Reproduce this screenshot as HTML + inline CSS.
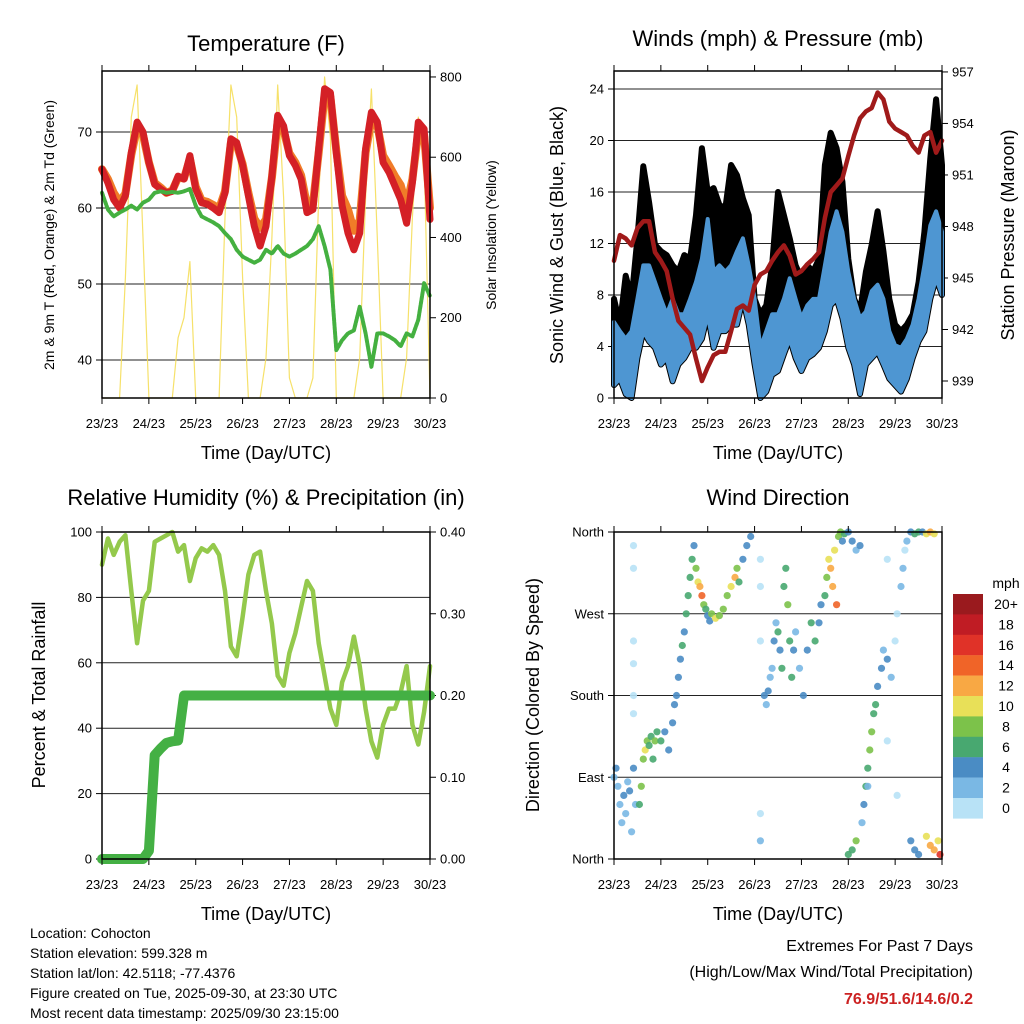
<!DOCTYPE html>
<html><head><meta charset="utf-8"><style>
html,body{margin:0;padding:0;background:#fff}
svg{display:block;font-family:"Liberation Sans",sans-serif}
</style></head><body>
<svg id="chart" xmlns="http://www.w3.org/2000/svg" width="1024" height="1024" viewBox="0 0 1024 1024">
<rect width="1024" height="1024" fill="#fff"/>
<g id="layer"></g>
</svg>
<script>
// 3-hourly samples, index i -> hour 3*i since 23/23
const dayLabels = ["23/23","24/23","25/23","26/23","27/23","28/23","29/23","30/23"];
const tempRed = [65.1,63.3,61.1,60.0,61.6,67.3,71.3,70.0,66.0,63.1,62.5,62.0,62.2,64.2,63.8,66.9,62.5,60.7,60.5,60.0,59.4,62.0,69.1,68.6,65.6,61.6,57.6,55.0,57.6,64.2,72.2,70.8,66.9,65.6,63.8,59.4,59.8,67.8,75.7,75.2,67.3,60.3,56.7,54.5,56.7,67.8,72.6,71.3,66.0,64.7,62.9,61.1,58.0,63.3,71.3,70.4,58.5];
const tempOrange = [65.1,63.8,62.0,60.8,61.9,67.0,70.6,69.6,66.0,63.3,62.7,62.0,62.3,64.0,63.9,66.5,62.8,61.0,60.8,60.4,59.9,62.2,68.6,68.3,65.8,62.0,58.6,57.4,58.5,64.0,71.4,70.2,67.2,66.0,64.3,60.4,60.5,67.3,74.8,74.6,67.6,61.6,59.8,57.0,58.4,67.3,71.6,70.9,66.9,65.6,64.2,63.0,60.2,63.8,70.0,69.6,60.0];
const dewGreen = [62.0,59.8,58.9,59.4,59.8,60.3,59.8,60.7,61.1,62.0,62.2,62.0,62.1,62.0,62.2,62.5,60.3,58.9,58.5,58.1,57.6,56.7,55.9,54.5,53.6,53.2,52.8,53.2,54.5,54.0,55.0,54.0,53.6,54.0,54.5,55.0,55.9,57.6,55.0,51.9,41.3,42.6,43.5,43.9,47.0,43.5,39.1,43.5,43.5,43.1,42.6,41.8,43.5,43.1,45.3,50.1,48.4];
const solar = [0,0,0,0,300,700,780,400,0,0,0,0,0,150,200,340,0,0,0,0,0,450,780,700,300,0,0,0,100,400,780,500,50,0,0,0,50,500,800,650,0,0,0,0,100,500,770,400,0,0,0,0,100,450,700,600,0];
const pressure = [946.0,947.5,947.3,946.9,947.9,948.3,948.3,946.5,946.0,945.4,943.8,942.5,942.1,941.7,940.3,939.0,939.8,940.5,940.7,940.7,941.9,943.2,943.4,943.1,944.6,945.2,945.4,946.0,946.5,946.9,946.3,945.2,945.4,945.8,946.1,946.5,948.5,950.0,950.4,950.8,952.1,953.3,954.3,954.7,954.9,955.8,955.4,954.1,953.7,953.5,953.3,952.7,952.3,953.3,953.5,952.3,953.0];
const windLo = [1.0,1.5,0.3,0,3.1,5.2,4.4,3.9,2.6,3.1,1.3,2.6,3.1,3.9,3.9,4.6,6.5,3.9,5.2,5.2,5.7,5.7,7.7,5.7,2.6,0,0.5,1.8,2.1,3.4,4.6,3.1,2.1,3.1,3.4,3.9,5.2,7.2,7.7,6.2,3.9,2.6,0.3,2.6,3.1,3.6,2.6,1.5,1.0,0.5,1.5,3.1,4.4,5.2,7.7,9.3,8.0];
const windHi = [5.9,5.2,4.6,5.2,7.7,10.3,10.3,9.0,7.7,6.5,7.7,6.5,6.5,7.7,9.0,10.8,13.9,9.8,10.3,9.8,10.3,11.4,12.4,10.3,7.7,3.9,5.2,6.5,6.5,7.7,9.3,7.7,6.2,7.2,7.7,7.7,10.3,12.9,14.5,12.9,9.8,7.7,6.2,6.7,8.3,8.8,7.7,5.2,4.1,3.9,4.6,5.7,7.7,10.3,13.4,14.5,12.9];
const gustHi = [7.7,5.7,9.5,7.7,12.4,18.0,15.2,11.9,11.4,11.1,10.3,9.8,11.1,10.8,14.2,19.4,16.0,16.3,15.0,14.7,18.1,17.3,15.5,14.2,7.7,6.5,7.2,10.3,16.0,14.2,12.4,10.3,9.3,10.3,9.8,10.8,18.1,20.6,19.4,16.8,10.8,7.7,6.7,9.8,11.9,14.5,11.4,7.7,5.7,5.2,5.7,6.5,9.0,12.9,18.6,23.2,18.1];
const rh = [90,98,93,97,99,82,66,79,82,97,98,99,100,94,96,85,92,95,94,96,93,82,65,62,74,87,93,94,82,72,56,53,63,69,77,85,82,66,56,46,41,54,59,68,59,46,36,31,41,46,46,51,59,41,35,45,59];
const precip = [0,0,0,0,0,0,0,0,0.01,0.127,0.135,0.142,0.144,0.145,0.2,0.2,0.2,0.2,0.2,0.2,0.2,0.2,0.2,0.2,0.2,0.2,0.2,0.2,0.2,0.2,0.2,0.2,0.2,0.2,0.2,0.2,0.2,0.2,0.2,0.2,0.2,0.2,0.2,0.2,0.2,0.2,0.2,0.2,0.2,0.2,0.2,0.2,0.2,0.2,0.2,0.2,0.2];
// wind direction observations: hour, degrees, speed (mph)
const dirHour = [0,1,2,3,4,5,6,7,8,9,10,11,10,10,10,10,10,10,13,14,15,16,17,18,19,20,21,22,24,26,28,30,31,32,33,34,35,36,37,38,39,40,41,42,43,44,45,46,47,48,49,50,52,54,56,58,60,62,63,64,66,68,70,75,75,75,75,75,77,78,79,80,81,82,83,84,85,86,87,88,89,90,91,92,93,95,97,99,101,103,105,106,108,109,110,111,112,113,114,115,116,117,118,120,122,124,126,120,122,124,127,128,129,130,131,132,133,134,135,137,138,140,142,144,145,147,148,149,150,152,154,156,158,160,162,164,152,154,156,160,162,164,166,167,140,140,145,130];
const dirDeg = [90,100,80,60,40,70,50,85,75,30,100,60,345,320,240,215,180,160,60,80,110,120,130,125,135,110,130,140,130,140,120,150,170,180,200,220,235,250,270,290,310,330,345,320,305,300,290,280,275,268,262,270,265,268,275,290,300,310,320,305,330,345,355,330,300,240,50,20,180,170,185,200,210,240,260,250,230,210,300,320,280,240,200,230,250,210,180,230,260,240,260,280,290,310,330,320,300,340,280,355,360,350,358,360,350,340,345,5,10,20,40,60,80,100,120,140,160,170,190,210,230,220,200,240,270,300,320,340,350,360,358,360,360,358,360,358,20,10,5,25,15,10,20,5,330,130,70,80];
const dirSpeed = [3,4,3,3,3,4,3,3,4,2,4,3,1,1,1,0,1,1,7,8,9,10,8,7,6,7,8,7,6,5,5,4,4,4,4,5,6,5,6,6,7,6,4,8,10,12,14,8,6,5,4,8,10,8,9,8,10,12,9,7,4,4,4,0,1,1,0,2,4,3,4,2,3,4,3,6,4,7,7,6,8,7,6,4,3,3,4,5,7,6,5,4,6,8,10,12,13,11,15,8,8,4,6,5,4,3,4,6,7,8,3,4,6,7,8,8,7,6,4,4,2,4,3,1,1,2,2,1,3,4,6,7,5,10,12,11,4,4,5,10,13,12,11,16,1,1,1,3];
const speedLabels = ["20+","18","16","14","12","10","8","6","4","2","0"];
const speedColors = ["#9a1a1e","#c01c24","#e03228","#f06428","#f8a844","#e8e058","#7cc24a","#48a870","#4a8cc4","#7ab8e4","#b8e2f6"];

const NS="http://www.w3.org/2000/svg";
const L=document.getElementById('layer');
function mk(tag,attrs,parent){const e=document.createElementNS(NS,tag);for(const k in attrs)e.setAttribute(k,attrs[k]);(parent||L).appendChild(e);return e;}
function txt(s,x,y,size,anchor,extra){const e=mk('text',Object.assign({x:x,y:y,'font-size':size,'text-anchor':anchor||'middle',fill:'#000'},extra||{}));e.textContent=s;return e;}

function panel(x0,y0,w,h,name){
  const g=mk('g',{});
  
  
  return {x0,y0,w,h,g,xs:t=>x0+t/168*w};
}
function frame(P,title,titleY){
  const r=mk('rect',{x:P.x0,y:P.y0,width:P.w,height:P.h,fill:'none',stroke:'#000','stroke-width':1.5},P.g);
  
  
  for(let d=0;d<8;d++){
    const x=P.xs(d*24);
    mk('line',{x1:x,y1:P.y0,x2:x,y2:P.y0-6,stroke:'#000'},P.g);
    mk('line',{x1:x,y1:P.y0+P.h,x2:x,y2:P.y0+P.h+6,stroke:'#000'},P.g);
    const t=txt(dayLabels[d],x,P.y0+P.h+30,13);
    
    
  }
  const xt=txt('Time (Day/UTC)',P.x0+P.w/2,P.y0+P.h+61,18);
  
  
  const tt=txt(title,P.x0+P.w/2,titleY,22);
  
  
}
function leftAxis(P,ys,ticks,labels,grid){
  ticks.forEach((v,k)=>{
    const y=ys(v);
    if(grid) mk('line',{x1:P.x0,y1:y,x2:P.x0+P.w,y2:y,stroke:'#222','stroke-width':1},P.g);
    mk('line',{x1:P.x0,y1:y,x2:P.x0-6,y2:y,stroke:'#000'},P.g);
    const t=txt(labels[k],P.x0-10,y+4.5,13,'end');
    
    
  });
}
function rightAxis(P,ys,ticks,labels){
  ticks.forEach((v,k)=>{
    const y=ys(v);
    mk('line',{x1:P.x0+P.w,y1:y,x2:P.x0+P.w+6,y2:y,stroke:'#000'},P.g);
    const t=txt(labels[k],P.x0+P.w+10,y+4.5,13,'start');
    
    
  });
}
function vtitle(s,x,y,size,name){
  const t=txt(s,x,y,size,'middle',{transform:`rotate(-90 ${x} ${y})`});
  
  
}
function line(P,arr,xs,ys,color,width,name,op,dash){
  const d=arr.map((v,i)=>(i?'L':'M')+xs(i*3).toFixed(1)+' '+ys(v).toFixed(1)).join(' ');
  const p=mk('path',{d:d,fill:'none',stroke:color,'stroke-width':width,'stroke-linejoin':'round','stroke-linecap':'round',opacity:op||1},P.g);
  if(dash) p.setAttribute('stroke-dasharray',dash);
  
  
  return p;
}
function band(P,lo,hi,xs,ys,color,name,sw){
  let d='M'+hi.map((v,i)=>xs(i*3).toFixed(1)+' '+ys(v).toFixed(1)).join(' L');
  d+=' L'+lo.map((v,i)=>[i,v]).reverse().map(([i,v])=>xs(i*3).toFixed(1)+' '+ys(v).toFixed(1)).join(' L')+' Z';
  const p=mk('path',{d:d,fill:color,stroke:color,'stroke-width':sw,'stroke-linejoin':'round'},P.g);
  
  
}

// ---------- Temperature ----------
const P1=panel(102,71,328,327,'temperature-panel');
const t1y=v=>398-(v-35)*7.6;
const s1y=v=>398-v*0.4013;
leftAxis(P1,t1y,[40,50,60,70],['40','50','60','70'],true);
rightAxis(P1,s1y,[0,200,400,600,800],['0','200','400','600','800']);
line(P1,solar,P1.xs,s1y,'#f5dc50',1.2,'solar-insolation-line',0.85);
line(P1,tempOrange,P1.xs,t1y,'#f07c28',8,'temp-9m-line');
line(P1,tempRed,P1.xs,t1y,'#d42026',7,'temp-2m-line');
line(P1,dewGreen,P1.xs,t1y,'#44b040',4,'dewpoint-line',1,'3 1.5');
frame(P1,'Temperature (F)',51);
vtitle('2m & 9m T (Red, Orange) & 2m Td (Green)',54,235,14,'y-axis-title');
vtitle('Solar Insolation (Yellow)',496,235,14,'y2-axis-title');

// ---------- Winds & Pressure ----------
const P2=panel(614,71,328,327,'wind-pressure-panel');
const w2y=v=>398-v*12.875;
const p2y=v=>381-(v-939)*17.17;
leftAxis(P2,w2y,[0,4,8,12,16,20,24],['0','4','8','12','16','20','24'],true);
rightAxis(P2,p2y,[939,942,945,948,951,954,957],['939','942','945','948','951','954','957']);
band(P2,windLo,gustHi,P2.xs,w2y,'#000','gust-points',6);
band(P2,windLo,windHi,P2.xs,w2y,'#4e96d2','sonic-wind-line',4);
line(P2,pressure,P2.xs,p2y,'#a01a1a',4.5,'pressure-line');
frame(P2,'Winds (mph) & Pressure (mb)',46);
vtitle('Sonic Wind & Gust (Blue, Black)',563,235,18,'y-axis-title');
vtitle('Station Pressure (Maroon)',1014,235,18,'y2-axis-title');

// ---------- RH & Precip ----------
const P3=panel(102,532,328,327,'humidity-precip-panel');
const r3y=v=>859-v*3.27;
const q3y=v=>859-v*817.5;
leftAxis(P3,r3y,[0,20,40,60,80,100],['0','20','40','60','80','100'],true);
rightAxis(P3,q3y,[0,0.1,0.2,0.3,0.4],['0.00','0.10','0.20','0.30','0.40']);
line(P3,rh,P3.xs,r3y,'#94c94c',4.5,'relative-humidity-line');
line(P3,precip,P3.xs,q3y,'#44b044',10,'precipitation-line');
frame(P3,'Relative Humidity (%) & Precipitation (in)',505);
vtitle('Percent & Total Rainfall',45,695,18,'y-axis-title');

// ---------- Wind direction ----------
const P4=panel(614,532,328,327,'wind-direction-panel');
const d4y=v=>859-v/360*327;
leftAxis(P4,d4y,[0,90,180,270,360],['North','East','South','West','North'],true);
function speedColor(s){const k=Math.min(10,Math.floor(s/2));return speedColors[10-k];}
dirHour.forEach((h,i)=>{
  const c=mk('circle',{cx:P4.xs(h).toFixed(1),cy:d4y(dirDeg[i]).toFixed(1),r:3.6,fill:speedColor(dirSpeed[i]),opacity:0.9},P4.g);
  
  
});
frame(P4,'Wind Direction',505);
vtitle('Direction (Colored By Speed)',539,695,18,'y-axis-title');
// colorbar
const cb=mk('g',{});


const cbt=txt('mph',1006,588,14,'middle');


speedLabels.forEach((lab,k)=>{
  const y=594+k*20.4;
  const r=mk('rect',{x:953,y:y,width:30,height:20.6,fill:speedColors[k]},cb);
  
  
  const t=txt(lab,1006,y+15,14,'middle');
  
  
});

// ---------- footer ----------
const info=["Location: Cohocton","Station elevation: 599.328 m","Station lat/lon: 42.5118; -77.4376","Figure created on Tue, 2025-09-30, at 23:30 UTC","Most recent data timestamp: 2025/09/30 23:15:00"];
info.forEach((s,k)=>{
  const t=txt(s,30,938+k*20,14,'start');
  
  
});
const e1=txt('Extremes For Past 7 Days',973,951,16,'end');


const e2=txt('(High/Low/Max Wind/Total Precipitation)',973,977,16,'end');


const e3=txt('76.9/51.6/14.6/0.2',973,1004,16,'end',{fill:'#cc2222','font-weight':'bold'});


</script>
</body></html>
